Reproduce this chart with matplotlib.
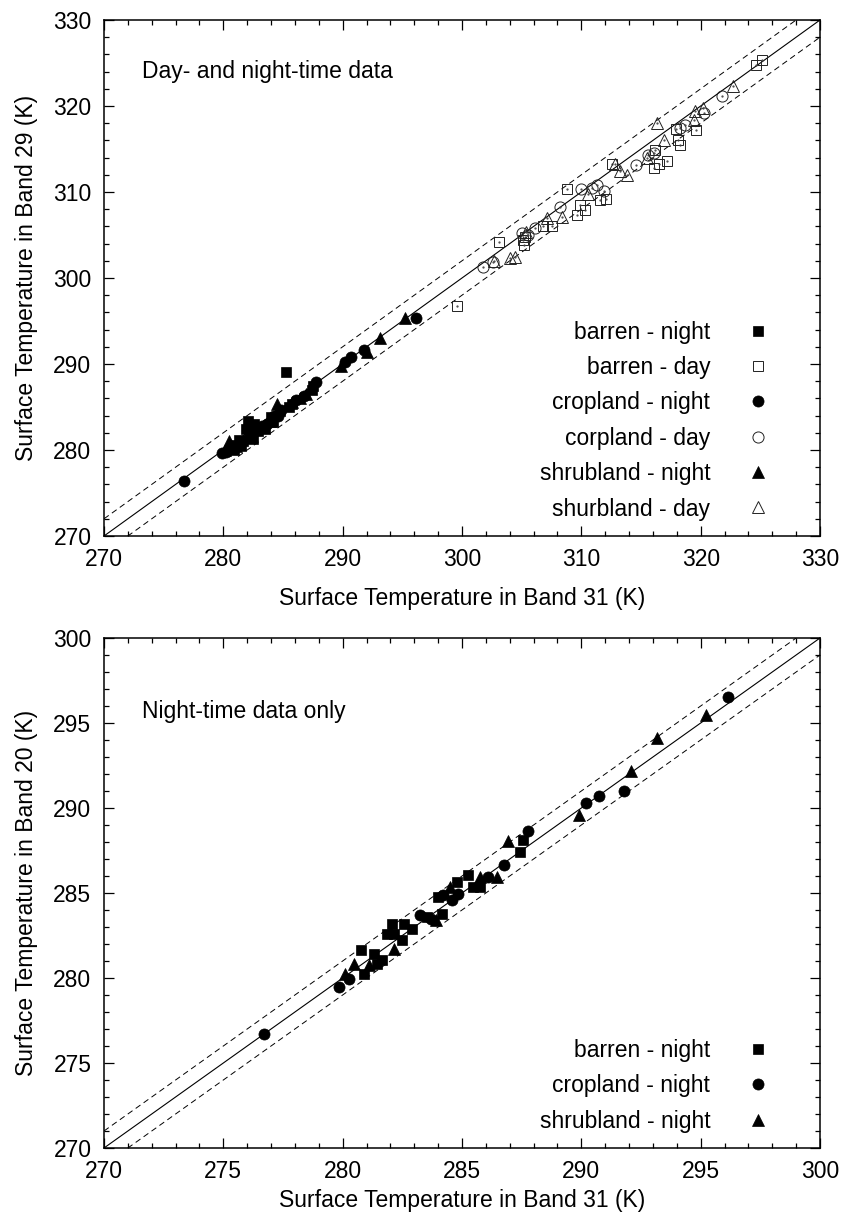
import matplotlib
matplotlib.use("Agg")
import matplotlib.pyplot as plt
from matplotlib.ticker import MultipleLocator

plt.rcParams['font.family'] = ['Liberation Sans', 'DejaVu Sans']

# ---------------- data ----------------
# Night-time points: Band 31 (x, shared), Band 29 (top panel), Band 20 (bottom panel)
barren_n_b31 = [280.75, 280.89, 281.3, 281.45, 281.65, 281.86, 282.07, 282.14, 282.49, 282.55,
                282.9, 283.53, 284.0, 284.15, 284.78, 285.26, 285.47, 285.75, 287.42, 287.55]
barren_n_b29 = [280.6, 280.0, 281.2, 280.5, 281.0, 282.4, 283.4, 282.0, 281.3, 283.0,
                282.2, 282.4, 283.8, 283.2, 284.5, 289.1, 285.0, 285.3, 287.0, 287.4]
barren_n_b20 = [281.63, 280.26, 281.4, 280.85, 281.04, 282.6, 283.2, 282.6, 282.21, 283.2,
                282.9, 283.59, 284.76, 283.79, 285.64, 286.03, 285.35, 285.35, 287.4, 288.13]

crop_n_b31 = [276.7, 279.85, 280.26, 283.25, 283.7, 284.22, 284.57, 284.85, 286.1, 286.75,
              287.76, 290.18, 290.73, 291.8, 296.15]
crop_n_b29 = [276.4, 279.7, 279.8, 282.8, 283.0, 284.0, 283.9, 284.6, 285.8, 286.3,
              287.9, 290.2, 290.8, 291.6, 295.4]
crop_n_b20 = [276.7, 279.47, 279.97, 283.68, 283.5, 284.86, 284.56, 284.95, 285.94, 286.62,
              288.64, 290.28, 290.73, 290.98, 296.54]

shrub_n_b31 = [280.1, 280.47, 281.1, 282.14, 283.9, 284.5, 285.75, 286.45, 286.93, 289.9,
               292.08, 293.15, 295.23]
shrub_n_b29 = [280.0, 281.0, 280.5, 281.5, 283.4, 285.3, 285.6, 286.0, 286.5, 289.8,
               291.4, 293.0, 295.3]
shrub_n_b20 = [280.26, 280.85, 280.75, 281.73, 283.4, 285.35, 285.94, 285.94, 288.05, 289.6,
               292.16, 294.12, 295.48]

# Day-time points (top panel only): Band 31 (x), Band 29 (y)
barren_d_b31 = [299.56, 303.1, 305.15, 305.2, 305.3, 306.8, 307.5, 308.8, 309.6, 310.3, 309.9,
                311.6, 312.1, 312.6, 316.05, 316.5, 317.2, 316.2, 317.9, 318.1, 318.3,
                319.6, 324.6, 325.1]
barren_d_b29 = [296.76, 304.2, 304.4, 303.8, 304.8, 306.0, 306.0, 310.3, 307.3, 307.9, 308.5,
                309.1, 309.2, 313.2, 312.8, 313.2, 313.6, 314.9, 317.3, 316.1, 315.5,
                317.2, 324.8, 325.3]

crop_d_b31 = [301.8, 302.6, 305.0, 305.5, 306.1, 308.2, 310.0, 310.9, 311.3, 311.9,
              314.6, 315.6, 316.05, 318.3, 318.7, 320.3, 321.8]
crop_d_b29 = [301.3, 301.9, 305.2, 305.0, 305.8, 308.3, 310.3, 310.5, 310.8, 310.1,
              313.1, 314.3, 314.5, 317.5, 317.8, 319.2, 321.2]

shrub_d_b31 = [302.7, 304.0, 304.45, 305.4, 307.1, 308.4, 310.6, 312.8, 313.25, 313.8,
               315.5, 316.3, 316.9, 319.4, 319.5, 320.2, 322.7]
shrub_d_b29 = [302.0, 302.3, 302.5, 305.4, 306.95, 307.1, 309.8, 313.3, 312.4, 312.0,
               313.95, 318.0, 316.1, 318.4, 319.4, 319.8, 322.3]

top_labels = ['barren - night', 'barren - day', 'cropland - night',
              'corpland - day', 'shrubland - night', 'shurbland - day']
bottom_labels = ['barren - night', 'cropland - night', 'shrubland - night']

top_range = (270, 330)
bottom_range = (270, 300)
top_band = 2.0
bottom_band = 1.0

# ---------------- figure ----------------
FS = 16.5
fig = plt.figure(figsize=(8.43, 12.24), dpi=100)
W, H = 843.0, 1224.0
ax1 = fig.add_axes([104 / W, 1 - 536 / H, 716 / W, 516 / H])
ax2 = fig.add_axes([104 / W, 1 - 1148 / H, 716 / W, 510 / H])

def style_axes(ax, lo, hi, major, minor):
    ax.set_xlim(lo, hi)
    ax.set_ylim(lo, hi)
    ax.xaxis.set_major_locator(MultipleLocator(major))
    ax.xaxis.set_minor_locator(MultipleLocator(minor))
    ax.yaxis.set_major_locator(MultipleLocator(major))
    ax.yaxis.set_minor_locator(MultipleLocator(minor))
    ax.tick_params(which='both', direction='in', top=True, right=True,
                   labelsize=FS, width=0.9, color='black')
    ax.tick_params(which='major', length=7.5, pad=9)
    ax.tick_params(which='minor', length=3.8)
    for s in ax.spines.values():
        s.set_linewidth(1.1)

def ref_lines(ax, lo, hi, band):
    xs = [lo, hi]
    ax.plot(xs, xs, color='black', lw=0.8, zorder=1)
    ax.plot(xs, [lo + band, hi + band], color='black', lw=0.7, ls=(0, (6, 4)), zorder=1)
    ax.plot(xs, [lo - band, hi - band], color='black', lw=0.7, ls=(0, (6, 4)), zorder=1)

ms_sq, ms_ci, ms_tr = 7.5, 8.0, 8.5

def filled(ax, x, y, m, ms, label):
    ax.plot(x, y, ls='none', marker=m, ms=ms, mfc='black', mec='black', mew=0.5,
            label=label, zorder=3)

def hollow(ax, x, y, m, ms, label):
    ax.plot(x, y, ls='none', marker=m, ms=ms, mfc='none', mec='#222222', mew=0.7,
            label=label, zorder=2)
    ax.plot(x, y, ls='none', marker='.', ms=1.2, color='#444444', zorder=2)

leg_kw = dict(loc='lower right', bbox_to_anchor=(0.93, 0.03), markerfirst=False,
              frameon=False, fontsize=FS, borderpad=0, borderaxespad=0,
              handlelength=1.0, handletextpad=1.6, labelspacing=0.54, numpoints=1)

# ---- top panel ----
style_axes(ax1, *top_range, 10, 2)
ref_lines(ax1, *top_range, top_band)
hollow(ax1, barren_d_b31, barren_d_b29, 's', ms_sq, top_labels[1])
hollow(ax1, crop_d_b31, crop_d_b29, 'o', ms_ci, top_labels[3])
hollow(ax1, shrub_d_b31, shrub_d_b29, '^', ms_tr, top_labels[5])
filled(ax1, barren_n_b31, barren_n_b29, 's', ms_sq, top_labels[0])
filled(ax1, crop_n_b31, crop_n_b29, 'o', ms_ci, top_labels[2])
filled(ax1, shrub_n_b31, shrub_n_b29, '^', ms_tr, top_labels[4])
ax1.set_xlabel('Surface Temperature in Band 31 (K)', fontsize=FS, labelpad=11)
ax1.set_ylabel('Surface Temperature in Band 29 (K)', fontsize=FS, labelpad=11)
ax1.text(0.053, 0.9, 'Day- and night-time data', transform=ax1.transAxes,
         fontsize=FS, va='center', ha='left')
handles, labels = ax1.get_legend_handles_labels()
order = [labels.index(l) for l in top_labels]
ax1.legend([handles[i] for i in order], [labels[i] for i in order], **leg_kw)

# ---- bottom panel ----
style_axes(ax2, *bottom_range, 5, 1)
ref_lines(ax2, *bottom_range, bottom_band)
filled(ax2, barren_n_b31, barren_n_b20, 's', ms_sq, bottom_labels[0])
filled(ax2, crop_n_b31, crop_n_b20, 'o', ms_ci, bottom_labels[1])
filled(ax2, shrub_n_b31, shrub_n_b20, '^', ms_tr, bottom_labels[2])
ax2.set_xlabel('Surface Temperature in Band 31 (K)', fontsize=FS, labelpad=4)
ax2.set_ylabel('Surface Temperature in Band 20 (K)', fontsize=FS, labelpad=11)
ax2.text(0.053, 0.855, 'Night-time data only', transform=ax2.transAxes,
         fontsize=FS, va='center', ha='left')
ax2.legend(**leg_kw)

fig.savefig('out.png', dpi=100)
